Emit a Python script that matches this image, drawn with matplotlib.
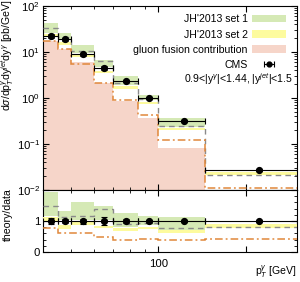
import numpy as np
import matplotlib
matplotlib.use("Agg")
import matplotlib.pyplot as plt
from matplotlib.patches import Patch
from matplotlib.ticker import FixedLocator, NullFormatter, FixedFormatter, MultipleLocator, LogLocator

plt.rcParams['font.family'] = ['Liberation Sans', 'DejaVu Sans']
plt.rcParams['mathtext.fontset'] = 'custom'
plt.rcParams['mathtext.rm'] = 'Liberation Sans'
plt.rcParams['mathtext.it'] = 'Liberation Sans:italic'
plt.rcParams['mathtext.bf'] = 'Liberation Sans:bold'

# ---- data ----
edges = np.array([40, 45, 50, 60, 70, 85, 100, 145, 300])
cms = np.array([22.0, 19.0, 9.0, 4.5, 2.35, 1.02, 0.32, 0.027])
cms_relerr = np.array([0.10, 0.07, 0.08, 0.12, 0.07, 0.05, 0.04, 0.04])
set1_lo = np.array([25.5, 19.6, 9.3, 4.6, 1.88, 0.89, 0.23, 0.0213])
set1_hi = np.array([42.9, 25.3, 14.5, 6.7, 2.96, 1.18, 0.36, 0.0227])
set1_central = np.array([32.6, 21.3, 10.5, 6.25, 2.12, 0.96, 0.246, 0.0216])
set2_lo = np.array([22.0, 14.3, 7.8, 3.47, 1.60, 0.755, 0.198, 0.0211])
set2_hi = np.array([24.9, 16.7, 8.7, 3.78, 1.81, 0.836, 0.224, 0.0243])
dashdot = np.array([16.9, 11.6, 5.5, 2.16, 0.92, 0.43, 0.125, 0.0113])
gluon = np.array([17.0, 11.5, 6.0, 2.1, 0.85, 0.37, 0.08, 0.005])

c_green = '#d5e9b5'
c_yellow = '#fdfb9e'
c_pink = '#f6d5c9'
c_orange = '#e0873a'
c_gray = '#8a8a8a'

centers = 0.5 * (edges[:-1] + edges[1:])
xlo = centers - edges[:-1]
xhi = edges[1:] - centers

fig = plt.figure(figsize=(3.0, 2.82), dpi=100)
ax1 = fig.add_axes([0.143, 0.326, 0.847, 0.653])
ax2 = fig.add_axes([0.143, 0.106, 0.847, 0.220])

fs = 7.6

# ---- top panel ----
ax1.stairs(gluon, edges, baseline=1e-4, fill=True, color=c_pink, lw=0, zorder=1)
ax1.stairs(set1_hi, edges, baseline=set1_lo, fill=True, color=c_green, lw=0, zorder=2)
ax1.stairs(set2_hi, edges, baseline=set2_lo, fill=True, color=c_yellow, lw=0, zorder=3)
ax1.stairs(set1_central, edges, baseline=None, color=c_gray, lw=1.0, ls=(0, (4, 3)), zorder=4)
ax1.stairs(dashdot, edges, baseline=None, color=c_orange, lw=1.1, ls=(0, (5, 2, 1.2, 2)), zorder=4)
ax1.errorbar(centers, cms, xerr=[xlo, xhi], yerr=cms * cms_relerr, fmt='o', color='black',
             ms=4.2, capsize=2.0, elinewidth=0.8, capthick=0.8, zorder=6)

ax1.set_xscale('log')
ax1.set_yscale('log')
ax1.set_xlim(40, 300)
ax1.set_ylim(1e-2, 1e2)

# legend
h_cms = ax1.errorbar([np.nan], [np.nan], xerr=[1], fmt='o', color='black', ms=3.5,
                     capsize=2.0, elinewidth=0.8, capthick=0.8)
handles = [Patch(color=c_green, lw=0), Patch(color=c_yellow, lw=0), Patch(color=c_pink, lw=0), h_cms]
labels = ["JH'2013 set 1", "JH'2013 set 2", "gluon fusion contribution", "CMS"]
ax1.legend(handles, labels, loc='upper right', bbox_to_anchor=(0.985, 0.995), frameon=False,
           markerfirst=False, fontsize=fs, handlelength=3.2, handleheight=0.7,
           labelspacing=0.5, handletextpad=0.4, borderpad=0.2)
ax1.text(0.985, 0.60, r"0.9<|y$^{\gamma}$|<1.44, |y$^{jet}$|<1.5", transform=ax1.transAxes,
         ha='right', va='center', fontsize=fs)

# ---- ratio panel ----
r1_lo = set1_lo / cms
r1_hi = set1_hi / cms
r1_c = set1_central / cms
r2_lo = set2_lo / cms
r2_hi = set2_hi / cms
r_dd = dashdot / cms
ax2.stairs(r1_hi, edges, baseline=r1_lo, fill=True, color=c_green, lw=0, zorder=2)
ax2.stairs(r2_hi, edges, baseline=r2_lo, fill=True, color=c_yellow, lw=0, zorder=3)
ax2.stairs(r1_c, edges, baseline=None, color=c_gray, lw=1.0, ls=(0, (4, 3)), zorder=4)
ax2.stairs(r_dd, edges, baseline=None, color=c_orange, lw=1.1, ls=(0, (5, 2, 1.2, 2)), zorder=4)
ax2.errorbar(centers, np.ones_like(cms), xerr=[xlo, xhi], yerr=cms_relerr, fmt='o', color='black',
             ms=4.2, capsize=2.0, elinewidth=0.8, capthick=0.8, zorder=6)
ax2.set_xscale('log')
ax2.set_xlim(40, 300)
ax2.set_ylim(0, 2)

# ---- ticks ----
for ax in (ax1, ax2):
    ax.tick_params(which='both', direction='in', top=True, right=True, labelsize=fs + 0.6)
    ax.tick_params(which='major', length=4, width=0.8)
    ax.tick_params(which='minor', length=2, width=0.6)
    ax.xaxis.set_major_locator(FixedLocator([100, 200]))
    ax.xaxis.set_minor_locator(FixedLocator([50, 60, 70, 80, 90]))
    ax.xaxis.set_minor_formatter(NullFormatter())
    for s in ax.spines.values():
        s.set_linewidth(0.8)

ax1.xaxis.set_major_formatter(NullFormatter())
ax2.xaxis.set_major_formatter(FixedFormatter(['100', '']))
ax1.yaxis.set_major_locator(LogLocator(base=10, numticks=10))
ax1.yaxis.set_minor_locator(LogLocator(base=10, subs=np.arange(2, 10), numticks=20))
ax1.yaxis.set_minor_formatter(NullFormatter())
ax2.yaxis.set_major_locator(FixedLocator([0, 1, 2]))
ax2.yaxis.set_major_formatter(FixedFormatter(['0', '1', '']))
ax2.yaxis.set_minor_locator(MultipleLocator(0.2))
ax1.tick_params(axis='y', pad=2)
ax2.tick_params(axis='y', pad=2)
ax2.tick_params(axis='x', pad=5)

# ---- labels ----
fig.text(8 / 300, 1 - 55 / 282, r"d$\sigma$/dp$_T^{\gamma}$dy$^{jet}$dy$^{\gamma}$ [pb/GeV]",
         rotation=90, ha='center', va='center', fontsize=fs)
fig.text(8 / 300, 1 - 215 / 282, "theory/data", rotation=90, ha='center', va='center', fontsize=fs)
fig.text(297 / 300, 1 - 272 / 282, r"p$_T^{\gamma}$ [GeV]", ha='right', va='center', fontsize=fs)

fig.savefig("out.png", dpi=100)
